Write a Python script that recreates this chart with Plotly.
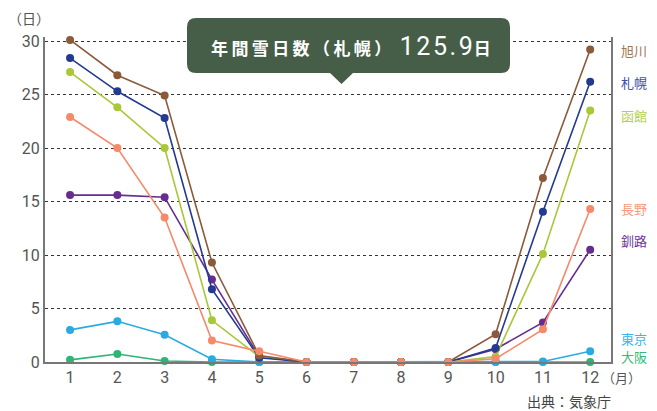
import plotly.graph_objects as go

months = list(range(1, 13))
cities = ["大阪", "東京", "釧路", "函館", "札幌", "旭川", "長野"]
osaka = [0.2, 0.75, 0.1, 0, 0, 0, 0, 0, 0, 0, 0, 0]
tokyo = [3.0, 3.8, 2.55, 0.25, 0, 0, 0, 0, 0, 0, 0.05, 1.0]
kushiro = [15.6, 15.6, 15.4, 7.7, 0.5, 0, 0, 0, 0, 1.2, 3.7, 10.5]
hakodate = [27.1, 23.8, 20.0, 3.9, 0.5, 0, 0, 0, 0, 0.5, 10.1, 23.5]
sapporo = [28.4, 25.3, 22.8, 6.8, 0.4, 0, 0, 0, 0, 1.3, 14.05, 26.2]
asahikawa = [30.1, 26.8, 24.9, 9.3, 0.6, 0, 0, 0, 0, 2.6, 17.2, 29.2]
nagano = [22.9, 20.0, 13.5, 2.0, 1.0, 0, 0, 0, 0, 0.3, 3.05, 14.3]
series = [osaka, tokyo, kushiro, hakodate, sapporo, asahikawa, nagano]
colors = ["#2db574", "#29abe2", "#662d91", "#a8c83a", "#233a91", "#8a5a3a", "#f7896b"]
label_colors = ["#36b87a", "#3cb4e6", "#6d3596", "#b4d04e", "#3a4ea6", "#a07658", "#f79a80"]
label_y = [356, 338, 240, 115, 83, 50, 209]
y_ticks = [0, 5, 10, 15, 20, 25, 30]
summary_label = "年間雪日数（札幌）"
summary_value = "125.9"

# plot area in pixels (30 sits at y=41, 0 at y=362)
L, R, T, B = 45, 611, 37, 362
YMAX = (B - T) / 10.7

def px(x):
    return (x - L) / (R - L)
def py(y):
    return (B - y) / (B - T)

fig = go.Figure()
for name, vals, c in zip(cities, series, colors):
    fig.add_trace(go.Scatter(x=months, y=vals, name=name, mode="lines+markers",
                             line=dict(color=c, width=1.6),
                             marker=dict(color=c, size=8),
                             cliponaxis=False, showlegend=False))

# rounded callout box
x0, x1, y0, y1, r = 187, 510, 18, 73, 9
path = (f"M {px(x0+r)},{py(y0)} L {px(x1-r)},{py(y0)} "
        f"Q {px(x1)},{py(y0)} {px(x1)},{py(y0+r)} L {px(x1)},{py(y1-r)} "
        f"Q {px(x1)},{py(y1)} {px(x1-r)},{py(y1)} "
        f"L {px(353)},{py(y1)} L {px(341.5)},{py(84)} L {px(330)},{py(y1)} "
        f"L {px(x0+r)},{py(y1)} Q {px(x0)},{py(y1)} {px(x0)},{py(y1-r)} "
        f"L {px(x0)},{py(y0+r)} Q {px(x0)},{py(y0)} {px(x0+r)},{py(y0)} Z")
fig.add_shape(type="path", path=path, xref="paper", yref="paper",
              fillcolor="#465e48", line=dict(width=0), layer="above")

spaced = "\u2009".join(summary_label)
value_spaced = "\u200a".join(summary_value)
fig.add_annotation(x=px(351), y=py(46), xref="paper", yref="paper",
                   text=(f"<b>{spaced}</b>\u2002<span style='font-size:25px;font-family:Roboto'>"
                         f"{value_spaced}</span>\u200a<b>日</b>"),
                   showarrow=False, font=dict(color="white", size=17, family="Noto Sans CJK JP"),
                   xanchor="center", yanchor="middle")

for name, ly, lc in zip(cities, label_y, label_colors):
    fig.add_annotation(x=px(620), y=py(ly), xref="paper", yref="paper", text=name,
                       showarrow=False, xanchor="left", yanchor="middle", height=15, borderpad=0,
                       font=dict(color=lc, size=13, family="Noto Sans CJK JP"))

fig.add_annotation(x=px(6), y=py(18), xref="paper", yref="paper", text="（日）",
                   showarrow=False, xanchor="left", yanchor="middle",
                   font=dict(color="#555", size=14, family="Noto Sans CJK JP"))
fig.add_annotation(x=px(601), y=py(377), xref="paper", yref="paper", text="（月）",
                   showarrow=False, xanchor="left", yanchor="middle", height=15, borderpad=0,
                   font=dict(color="#555", size=13, family="Noto Sans CJK JP"))
fig.add_annotation(x=px(613), y=py(401), xref="paper", yref="paper", text="出典：気象庁",
                   showarrow=False, xanchor="right", yanchor="middle",
                   font=dict(color="#444", size=14, family="Noto Sans CJK JP"))

fig.update_xaxes(range=[0.47, 12.44], tickvals=months, showgrid=False, zeroline=False,
                 showline=True, linecolor="#777", linewidth=2, ticks="",
                 tickfont=dict(size=16, color="#555", family="Roboto"))
fig.update_yaxes(range=[0, YMAX], tickvals=y_ticks, showgrid=True, gridcolor="#333",
                 griddash="3px,3px", gridwidth=1, zeroline=False,
                 showline=True, mirror=True, linecolor="#777", linewidth=2, ticks="",
                 tickfont=dict(size=16, color="#555", family="Roboto"))
fig.update_layout(width=657, height=411, margin=dict(l=L, r=657 - R, t=T, b=411 - B),
                  plot_bgcolor="white", paper_bgcolor="white")
fig.write_html("out.html")
